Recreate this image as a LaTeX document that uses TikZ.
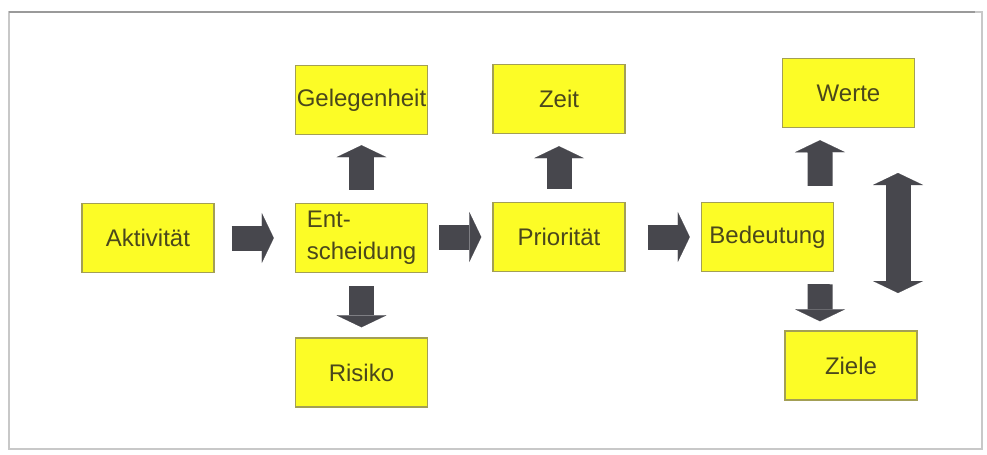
\documentclass[tikz,border=0pt]{standalone}
\usepackage{fontspec}
\setmainfont{Liberation Sans}
\usetikzlibrary{arrows.meta}
\definecolor{boxfill}{HTML}{FCFC26}
\definecolor{boxline}{HTML}{A39F55}
\definecolor{txt}{HTML}{4A471C}
\definecolor{arr}{HTML}{47474D}
\definecolor{framec}{HTML}{C8C8C8}
\definecolor{topline}{HTML}{9A9A9A}
\begin{document}
\begin{tikzpicture}[x=0.75pt,y=-0.75pt,
  box/.style={draw=boxline, line width=1.1pt, fill=boxfill, minimum width=99pt,
    minimum height=51.75pt, inner sep=0pt, text=txt, font=\fontsize{18}{24}\selectfont},
  fat/.style={draw=arr, line width=18.75pt, -{Triangle[width=37.5pt,length=9pt,line width=0.1pt]}},
  fatboth/.style={draw=arr, line width=18.75pt,
    {Triangle[width=37.5pt,length=9pt,line width=0.1pt]}-{Triangle[width=37.5pt,length=9pt,line width=0.1pt]}}]
\useasboundingbox[fill=white] (0,0) rectangle (987,454);
% frame
\draw[framec, line width=1.2pt] (9,449) -- (9,12) -- (982,12) -- (982,449) -- cycle;
\draw[topline, line width=2pt] (9,12) -- (975,12);
% boxes
\node[box] (akt)  at (148,238) {Aktivität};
\node[box, align=left] (ent) at (361.5,238) {Ent-\\scheidung};
\node[box] (gel)  at (361.5,100) {Gelegenheit};
\node[box] (ris)  at (361.5,372.5) {Risiko};
\node[box] (zeit) at (559,99) {Zeit};
\node[box] (pri)  at (559,237) {Priorität};
\node[box] (bed)  at (767.5,237) {Bedeutung};
\node[box] (wer)  at (848.5,93) {Werte};
\node[box] (zie)  at (851,365.5) {Ziele};
% arrows
\draw[fat] ([xshift=12.75pt]akt.east) -- ([xshift=-15.75pt]ent.west);
\draw[fat] ([xshift=8.25pt,yshift=0.75pt]ent.east) -- ([xshift=-8.25pt]pri.west);
\draw[fat] ([xshift=16.5pt]pri.east) -- ([xshift=-8.25pt]bed.west);
\draw[fat] ([yshift=9.75pt]ent.north) -- ([yshift=-7.5pt]gel.south);
\draw[fat] ([yshift=-9.75pt]ent.south) -- ([yshift=7.5pt]ris.north);
\draw[fat] ([yshift=9.75pt]pri.north) -- ([yshift=-9pt]zeit.south);
\draw[fat] ([xshift=39.4pt,yshift=12pt]bed.north) -- ([xshift=-21.4pt,yshift=-9pt]wer.south);
\draw[fat] ([xshift=39.4pt,yshift=-9pt]bed.south) -- ([xshift=-23.25pt,yshift=6.75pt]zie.north);
\coordinate (dtop) at (898,173);
\coordinate (dbot) at (898,293);
\draw[fatboth] (dtop) -- (dbot);
\end{tikzpicture}
\end{document}
